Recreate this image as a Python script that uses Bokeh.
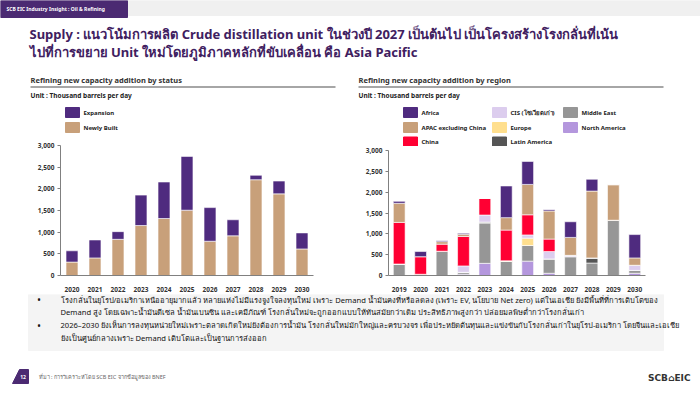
from bokeh.plotting import figure
from bokeh.layouts import column, row
from bokeh.models import (Range1d, FactorRange, FixedTicker, NumeralTickFormatter, ColumnDataSource)
from bokeh.core.properties import value
from bokeh.embed import file_html
from bokeh.resources import INLINE

# ---------------- data ----------------
status_years = ["2020", "2021", "2022", "2023", "2024", "2025", "2026", "2027", "2028", "2029", "2030"]
newly_built = [310, 406, 835, 1153, 1315, 1507, 791, 916, 2210, 1884, 613]
expansion = [260, 414, 177, 702, 843, 1242, 776, 370, 103, 296, 370]

region_years = ["2019", "2020", "2021", "2022", "2023", "2024", "2025", "2026", "2027", "2028", "2029", "2030"]
north_america = [0, 0, 0, 31, 292, 0, 345, 54, 0, 0, 0, 54]
middle_east = [276, 0, 583, 46, 967, 338, 376, 345, 453, 299, 1327, 69]
latin_america = [0, 0, 0, 0, 23, 0, 0, 0, 0, 123, 0, 0]
europe = [0, 30, 0, 0, 0, 15, 176, 0, 0, 0, 0, 0]
cis = [0, 0, 0, 153, 169, 0, 77, 176, 31, 0, 0, 123]
china = [998, 422, 169, 706, 399, 737, 483, 299, 0, 0, 0, 0]
apac_ex_china = [460, 0, 61, 54, 0, 299, 729, 675, 430, 1604, 852, 176]
africa = [46, 123, 23, 23, 0, 760, 552, 31, 376, 284, 0, 560]

y_ticks = [0, 500, 1000, 1500, 2000, 2500, 3000]

PURPLE = "#4f2b7f"
TAN = "#c8a07a"
FONT = "Noto Sans"
TITLE_COLOR = "#40205f"

status_names = ["Newly Built", "Expansion"]
status_colors = [TAN, PURPLE]

region_keys = ["na", "me", "la", "eu", "cis", "cn", "apac", "af"]
region_names = ["North America", "Middle East", "Latin America", "Europe", "CIS (โซเวียตเก่า)", "China",
                "APAC excluding China", "Africa"]
region_colors = ["#b497dd", "#969696", "#555555", "#ffdf8e", "#dccdee", "#ff0033", TAN, PURPLE]


def blank(width, height, xr, yr):
    f = figure(width=width, height=height, x_range=Range1d(*xr), y_range=Range1d(*yr),
               output_backend="svg", toolbar_location=None, min_border=0,
               x_axis_location=None, y_axis_location=None, frame_align=False)
    f.grid.visible = False
    f.outline_line_color = None
    return f


def txt(f, x, y, s, size, color="#222222", bold=False, align="left", font=FONT):
    f.text(x=[x], y=[y], text=[s], text_font=value(font), text_font_size=size,
           text_color=color, text_font_style="bold" if bold else "normal",
           text_baseline="middle", text_align=align)


# ---------------- header ----------------
top = blank(700, 70, (0, 700), (70, 0))
top.quad(left=[0], right=[700], top=[0], bottom=[15], color="#f0f0f0")
top.quad(left=[0], right=[127], top=[0], bottom=[17], color="#4b2a72")
txt(top, 6, 8.5, "SCB EIC Industry Insight : Oil & Refining", "5px", "white", True)
txt(top, 29, 33, "Supply : แนวโน้มการผลิต Crude distillation unit ในช่วงปี 2027 เป็นต้นไป เป็นโครงสร้างโรงกลั่นที่เน้น",
    "13px", TITLE_COLOR, True)
txt(top, 29, 51, "ไปที่การขยาย Unit ใหม่โดยภูมิภาคหลักที่ขับเคลื่อน คือ Asia Pacific", "13px", TITLE_COLOR, True)


def head(x0, x1, y1, title, entries):
    f = blank(350, y1 - 70, (x0, x0 + 350), (y1, 70))
    tx = x0 + 30 if x0 == 0 else x0 + 8
    txt(f, tx, 79, title, "7.5px", "#333333", True)
    f.segment(x0=[tx], x1=[x1], y0=[86.5], y1=[86.5], line_color="#a6a6a6", line_width=2)
    txt(f, tx, 95, "Unit : Thousand barrels per day", "6.5px", "#222222", True)
    for lx, ly, name, color in entries:
        f.quad(left=[lx], right=[lx + 14], top=[ly - 5], bottom=[ly + 5], color=color)
    for lx, ly, name, color in entries:
        txt(f, lx + 18, ly, name, "6px", "#222222", True)
    return f


left_head = head(0, 335, 139, "Refining new capacity addition by status",
                 [(65, 112, status_names[1], status_colors[1]),
                  (65, 127, status_names[0], status_colors[0])])

rc = dict(zip(region_keys, region_colors))
rn = dict(zip(region_keys, region_names))
legend_layout = [("af", 403, 112), ("apac", 403, 127), ("cn", 403, 141.5),
                 ("cis", 492, 112), ("eu", 492, 127), ("la", 492, 141.5),
                 ("me", 563, 112), ("na", 563, 127)]
right_head = head(350, 663, 146, "Refining new capacity addition by region",
                  [(lx, ly, rn[k], rc[k]) for k, lx, ly in legend_layout])


# ---------------- charts ----------------
def chart(years, height, bl, br, bt, bb):
    f = figure(width=350, height=height, x_range=FactorRange(*years), y_range=Range1d(0, 3000),
               output_backend="svg", toolbar_location=None, frame_align=False,
               min_border_left=bl, min_border_right=br, min_border_top=bt, min_border_bottom=bb)
    f.grid.visible = False
    f.outline_line_color = None
    f.x_range.range_padding = 0
    f.yaxis.ticker = FixedTicker(ticks=y_ticks)
    f.yaxis.formatter = NumeralTickFormatter(format="0,0")
    f.yaxis.major_tick_out = 3
    f.yaxis.major_tick_in = 0
    f.yaxis.minor_tick_line_color = None
    f.yaxis.major_label_standoff = 3
    f.axis.axis_line_color = "#808080"
    f.yaxis.major_tick_line_color = "#808080"
    f.xaxis.major_tick_line_color = None
    f.xaxis.major_label_standoff = 5
    f.axis.major_label_text_font = FONT
    f.axis.major_label_text_font_size = "6.5px"
    f.axis.major_label_text_font_style = "bold"
    f.axis.major_label_text_color = "#333333"
    return f


left = chart(status_years, 155, 60, 37, 6, 14)
src_l = ColumnDataSource(dict(year=status_years, newly=newly_built, exp=expansion))
left.vbar_stack(["newly", "exp"], x="year", width=0.52, color=status_colors, source=src_l,
                line_color="white", line_width=0.6)

right = chart(region_years, 148, 38, 55, 4, 14)
src_r = ColumnDataSource(dict(year=region_years, na=north_america, me=middle_east, la=latin_america,
                              eu=europe, cis=cis, cn=china, apac=apac_ex_china, af=africa))
right.vbar_stack(region_keys, x="year", width=0.55, color=region_colors, source=src_r,
                 line_color="white", line_width=0.6)

# ---------------- bottom ----------------
bottom = blank(700, 100, (0, 700), (394, 294))
bottom.quad(left=[28], right=[663], top=[294], bottom=[350], color="#f4f4f4")
bullets = [
    (299, "โรงกลั่นในยุโรป/อเมริกาเหนืออายุมากแล้ว หลายแห่งไม่มีแรงจูงใจลงทุนใหม่ เพราะ Demand น้ำมันคงที่หรือลดลง (เพราะ EV, นโยบาย Net zero) แต่ในเอเชีย ยังมีพื้นที่ที่การเติบโตของ", True),
    (311.5, "Demand สูง โดยเฉพาะน้ำมันดีเซล น้ำมันเบนซิน และเคมีภัณฑ์  โรงกลั่นใหม่จะถูกออกแบบให้ทันสมัยกว่าเดิม ประสิทธิภาพสูงกว่า ปล่อยมลพิษต่ำกว่าโรงกลั่นเก่า", False),
    (324.5, "2026–2030 ยังเห็นการลงทุนหน่วยใหม่เพราะตลาดเกิดใหม่ยังต้องการน้ำมัน โรงกลั่นใหม่มักใหญ่และครบวงจร เพื่อประหยัดต้นทุนและแข่งขันกับโรงกลั่นเก่าในยุโรป-อเมริกา โดยจีนและเอเชีย", True),
    (337, "ยังเป็นศูนย์กลางเพราะ Demand เติบโตและเป็นฐานการส่งออก", False),
]
for y, s, b in bullets:
    if b:
        txt(bottom, 37, y, "•", "8px", "#111111", True)
    txt(bottom, 60, y, s, "7.6px", "#111111")
bottom.patch(x=[12, 28, 28, 19], y=[383, 383, 369, 369], color="#4b2a72")
txt(bottom, 22.5, 376, "12", "5px", "white", True, "center")
txt(bottom, 38, 376, "ที่มา : การวิเคราะห์โดย SCB EIC จากข้อมูลของ BNEF", "5.5px", "#666666")
txt(bottom, 690, 377, "SCB⌂EIC", "9px", "#333333", True, "right", "DejaVu Sans")

page = column(top, row(column(left_head, left), column(right_head, right)), bottom)
open("out.html", "w").write(file_html(page, INLINE))
